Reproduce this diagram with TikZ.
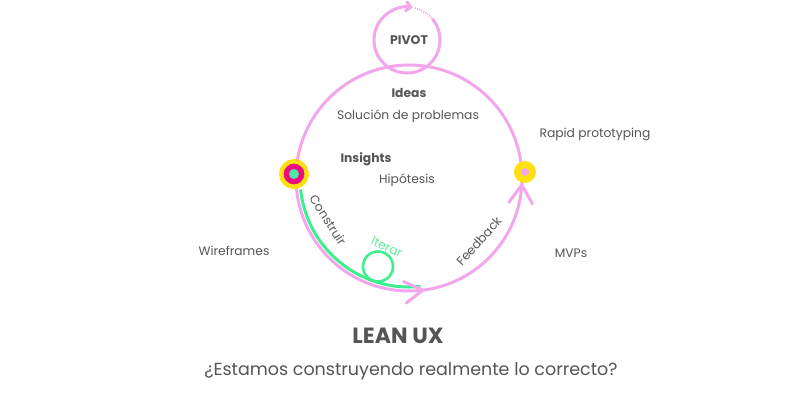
\documentclass[tikz,border=0pt]{standalone}
\usepackage{fontspec}
\setmainfont{Poppins}
\usetikzlibrary{calc,arrows.meta}
\definecolor{ringpink}{HTML}{F3A6EC}
\definecolor{mint}{HTML}{3EEF8E}
\definecolor{minttext}{HTML}{5CF09C}
\definecolor{sun}{HTML}{FFE010}
\definecolor{magent}{HTML}{EE0A80}
\definecolor{dotgreen}{HTML}{4DE8A6}
\definecolor{txt}{HTML}{555555}
\tikzset{
  lbl/.style={text=txt, font=\fontsize{12.3}{14}\selectfont, inner sep=0},
  blbl/.style={text=txt, font=\fontsize{12.3}{14}\selectfont\bfseries, inner sep=0},
  pinkline/.style={draw=ringpink, line width=3pt},
  chev/.style={draw=ringpink, line width=3pt, line cap=round, line join=round},
}
\begin{document}
\begin{tikzpicture}[x=1pt,y=1pt]
\useasboundingbox[fill=white] (0,0) rectangle (800,400);
% main ring
\node[circle, pinkline, minimum size=226pt, inner sep=0] (ring) at (409,222) {};
% pivot circle
\coordinate (pv) at (407,360);
\draw[ringpink, line width=3pt, -{Straight Barb[length=5pt,width=10pt]}]
  ($(pv)+(40:33)$) arc[start angle=40, end angle=-280, radius=33];
\draw[ringpink, line width=2pt, dash pattern=on 1pt off 1.3pt]
  ($(pv)+(76:33)$) arc[start angle=76, end angle=38, radius=33];
\node[blbl, font=\fontsize{12.5}{14}\selectfont\bfseries] (pivot) at (409,360) {PIVOT};
% green arc
\draw[mint, line width=3pt] ($(ring.center)+(186:109)$) arc[start angle=186, end angle=276, radius=109];
\node[circle, draw=mint, line width=2.6pt, minimum size=30pt, inner sep=0] (loop) at (378,133.5) {};
% chevrons
\coordinate (tipB) at ($(ring.center)+(-83:113)$);
\draw[chev] ($(tipB)+(187+31:21)$) -- (tipB) -- ($(tipB)+(187-31:21)$);
\coordinate (tipR) at ($(ring.center)+(-3.5:113)$);
\draw[chev] ($(tipR)+(266.5+33:21.6)$) -- (tipR) -- ($(tipR)+(266.5-33:21.6)$);
% left node
\node[circle, fill=magent, draw=sun, line width=4.5pt, minimum size=25.5pt, inner sep=0] (lnode) at (294,226) {};
\node[circle, fill=dotgreen, minimum size=10pt, inner sep=0] (lcore) at (lnode) {};
% right node
\node[circle, fill=sun, minimum width=22pt, minimum height=20pt, inner sep=0] (rnode) at (525,228) {};
\node[circle, fill=ringpink, minimum size=8pt, inner sep=0] (rcore) at (rnode) {};
% labels
\node[blbl] (ideas) at (409,307) {Ideas};
\node[lbl] (sol) at (408,284) {Solución de problemas};
\node[blbl] (ins) at (366,241) {Insights};
\node[lbl] (hip) at (407,220) {Hipótesis};
\node[lbl] (rapid) at (595,266) {Rapid prototyping};
\node[lbl] (wire) at (234,149) {Wireframes};
\node[lbl] (mvp) at (571,147) {MVPs};
\node[lbl, rotate=-57] (cons) at (328,180) {Construir};
\node[lbl, rotate=48] (feed) at (479,159) {Feedback};
\node[lbl, text=minttext, rotate=-25] (iter) at (387,153) {Iterar};
\node[blbl, font=\fontsize{22}{26}\selectfont\bfseries] (lean) at (398,64) {LEAN UX};
\node[lbl, font=\fontsize{17.5}{21}\selectfont] (q) at (411,29) {¿Estamos construyendo realmente lo correcto?};
\end{tikzpicture}
\end{document}
